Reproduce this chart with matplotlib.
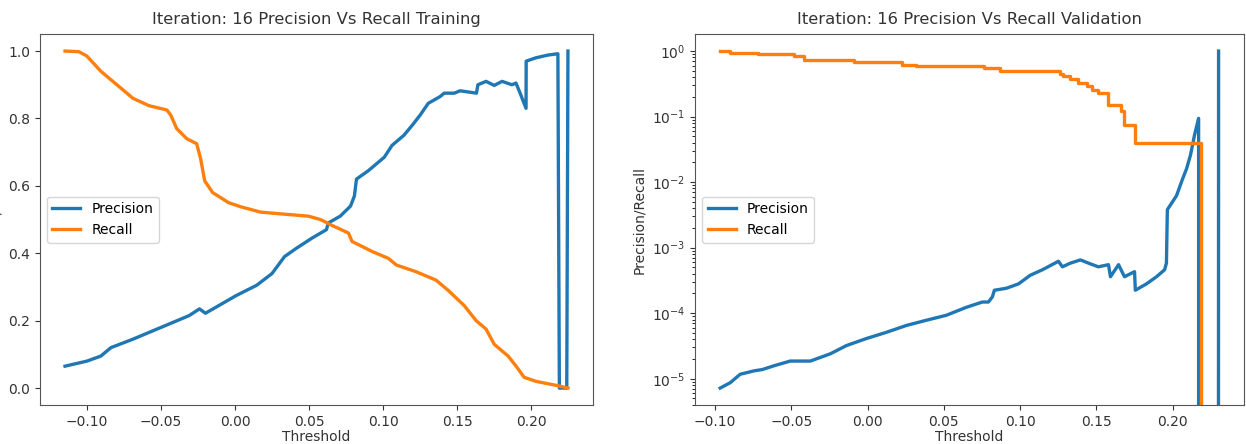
import matplotlib
matplotlib.use("Agg")
import matplotlib.pyplot as plt

# ---- Training data (left) ----
train_prec_x = [-0.1148, -0.100, -0.0906, -0.0838, -0.069, -0.050, -0.031, -0.024, -0.020,
                0.001, 0.0146, 0.025, 0.0334, 0.0415, 0.052, 0.0617, 0.063, 0.071, 0.078,
                0.0806, 0.082, 0.090, 0.1008, 0.106, 0.114, 0.1197, 0.125, 0.1305, 0.1385,
                0.1412, 0.148, 0.152, 0.163, 0.164, 0.1695, 0.175, 0.1803, 0.187, 0.1897,
                0.1925, 0.1965, 0.1966, 0.2032, 0.2113, 0.218, 0.2190, 0.2240, 0.2248]
train_prec_y = [0.065, 0.080, 0.095, 0.120, 0.145, 0.180, 0.215, 0.235, 0.222,
                0.275, 0.305, 0.340, 0.390, 0.415, 0.445, 0.470, 0.490, 0.510, 0.540,
                0.570, 0.620, 0.645, 0.685, 0.720, 0.750, 0.780, 0.810, 0.845, 0.865,
                0.875, 0.875, 0.882, 0.875, 0.900, 0.910, 0.898, 0.910, 0.900, 0.905,
                0.875, 0.830, 0.970, 0.980, 0.988, 0.992, 0.0, 0.0, 1.0]

train_rec_x = [-0.1148, -0.1054, -0.100, -0.0906, -0.0798, -0.069, -0.0582, -0.046, -0.0434,
               -0.0394, -0.0326, -0.0259, -0.0232, -0.0205, -0.0151, -0.0043, 0.0038, 0.0173,
               0.036, 0.0496, 0.0577, 0.0658, 0.0766, 0.079, 0.0927, 0.1035, 0.109, 0.1224,
               0.1358, 0.1439, 0.1547, 0.1628, 0.1695, 0.175, 0.1844, 0.1898, 0.1952, 0.2032,
               0.218, 0.2248]
train_rec_y = [1.0, 0.998, 0.985, 0.940, 0.900, 0.860, 0.838, 0.825, 0.810,
               0.770, 0.740, 0.725, 0.680, 0.615, 0.580, 0.550, 0.538, 0.522,
               0.515, 0.510, 0.500, 0.482, 0.460, 0.435, 0.405, 0.385, 0.365, 0.345,
               0.320, 0.290, 0.245, 0.200, 0.175, 0.130, 0.095, 0.065, 0.032, 0.020,
               0.007, 0.0]

# ---- Validation data (right) ----
val_prec_x = [-0.0966, -0.090, -0.0835, -0.0743, -0.069, -0.0612, -0.0507, -0.0375, -0.0244,
              -0.0139, -0.0008, 0.0123, 0.0255, 0.0386, 0.0517, 0.0648, 0.0753, 0.0793,
              0.0819, 0.0832, 0.091, 0.099, 0.1068, 0.1147, 0.1252, 0.1278, 0.133, 0.1396,
              0.1449, 0.1514, 0.158, 0.1593, 0.1646, 0.1685, 0.1751, 0.1756, 0.1829, 0.1895,
              0.1948, 0.196, 0.1966, 0.2026, 0.2066, 0.2092, 0.2118, 0.2144, 0.2171, 0.2175,
              0.2302]
val_prec_y = [7.2e-6, 8.7e-6, 1.17e-5, 1.32e-5, 1.38e-5, 1.58e-5, 1.86e-5, 1.86e-5, 2.4e-5,
              3.2e-5, 4.1e-5, 5.1e-5, 6.5e-5, 7.8e-5, 9.3e-5, 1.23e-4, 1.48e-4, 1.48e-4,
              1.78e-4, 2.24e-4, 2.4e-4, 2.8e-4, 3.8e-4, 4.6e-4, 6.2e-4, 5.1e-4, 5.8e-4, 6.5e-4,
              5.8e-4, 5.1e-4, 5.5e-4, 3.6e-4, 5.5e-4, 3.6e-4, 4.3e-4, 2.24e-4, 2.8e-4, 3.6e-4,
              4.6e-4, 5.8e-4, 3.8e-3, 6.2e-3, 1.12e-2, 1.6e-2, 2.6e-2, 5.2e-2, 9.4e-2, 0.0,
              1.0]

val_rec_x = [-0.0966, -0.090, -0.0717, -0.048, -0.0415, -0.0087, 0.0228, 0.032, 0.0766,
             0.087, 0.1265, 0.128, 0.133, 0.138, 0.1436, 0.1475, 0.1514, 0.158, 0.1659,
             0.1685, 0.1751, 0.2184]
val_rec_y = [1.0, 0.94, 0.89, 0.84, 0.72, 0.68, 0.62, 0.59, 0.55,
             0.49, 0.45, 0.41, 0.38, 0.32, 0.29, 0.25, 0.23, 0.15, 0.12,
             0.074, 0.039, 0.0]

titles = ["Iteration: 16 Precision Vs Recall Training",
          "Iteration: 16 Precision Vs Recall Validation"]

BLUE = "#1f77b4"
ORANGE = "#ff7f0e"

fig = plt.figure(figsize=(12.46, 4.44), dpi=100)
ax1 = fig.add_axes([0.032, 0.088, 0.444, 0.835])
ax2 = fig.add_axes([0.558, 0.088, 0.440, 0.835])

lw = 2.4
ax1.plot(train_prec_x, train_prec_y, color=BLUE, lw=lw, label="Precision")
ax1.plot(train_rec_x, train_rec_y, color=ORANGE, lw=lw, label="Recall")

ax2.plot(val_prec_x, val_prec_y, color=BLUE, lw=lw, label="Precision")
ax2.plot(val_rec_x, val_rec_y, color=ORANGE, lw=lw, label="Recall", drawstyle="steps-post")
ax2.set_yscale("log")

for ax, t in zip((ax1, ax2), titles):
    ax.set_title(t, fontsize=11.8, color="#333333", pad=7)
    ax.set_xlabel("Threshold", fontsize=10, color="#333333", labelpad=1)
    ax.set_ylabel("Precision/Recall", fontsize=10, color="#333333")
    ax.tick_params(labelsize=10, colors="#333333")
    for s in ax.spines.values():
        s.set_color("#555555")
    ax.legend(loc="center left", fontsize=10)

fig.savefig("out.png", dpi=100)
